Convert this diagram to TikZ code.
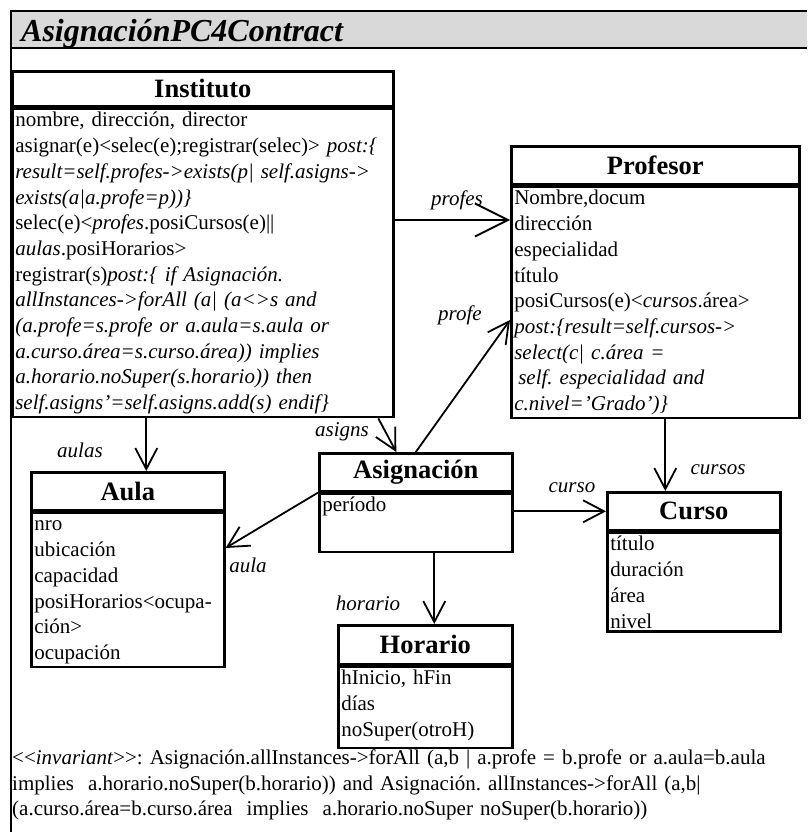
\documentclass[tikz,border=0pt]{standalone}
\usepackage{fontspec}
\setmainfont{Liberation Serif}
\usetikzlibrary{positioning,arrows.meta}
\definecolor{bandgray}{HTML}{D9D9D9}
\frenchspacing

\begin{document}
\begin{tikzpicture}[x=1pt, y=-1pt,
  frame/.style={line width=2.8pt},
  cls/.style={rectangle, draw, line width=2.6pt, inner sep=0pt, minimum height=38pt,
              anchor=north west, font=\fontsize{26.5}{30}\selectfont\bfseries},
  attrs/.style={rectangle, draw, line width=2.6pt, inner sep=3pt, align=left,
                font=\fontsize{21}{25.7}\selectfont,
                execute at begin node=\rule{0pt}{15pt}},
  role/.style={font=\fontsize{21}{24}\selectfont\itshape, inner sep=0pt},
  arr/.style={-{Straight Barb[length=21pt, width=22pt]}, line width=1.8pt},
  bigarr/.style={-{Straight Barb[length=33pt, width=33pt]}, line width=1.8pt}
]
\useasboundingbox (0,0) rectangle (807,832);

% frame and title band
\fill[bandgray] (11,11) rectangle (807,48);
\draw[frame] (11,832) -- (11,11) -- (807,11);
\draw[frame] (11,48) -- (807,48);
\node[anchor=base west, inner sep=0pt, font=\fontsize{32}{36}\selectfont\bfseries\itshape]
  (title) at (21,42) {AsignaciónPC4Contract};

% classes
\node[cls, minimum width=381pt, minimum height=35pt] (inst) at (11,70) {Instituto};
\node[attrs, text width=375pt, below=0pt of inst] (instb) {nombre, dirección, director\\
  asignar(e)<selec(e);registrar(selec)> \textit{post:\{}\\
  \textit{result=self.profes->exists(p| self.asigns->}\\
  \textit{exists(a|a.profe=p))\}}\\
  selec(e)<\textit{profes}.posiCursos(e)||\\
  \textit{aulas}.posiHorarios>\\
  registrar(s)\textit{post:\{ if Asignación.}\\
  \textit{allInstances->forAll (a| (a<>s and}\\
  \textit{(a.profe=s.profe or a.aula=s.aula or}\\
  \textit{a.curso.área=s.curso.área)) implies}\\
  \textit{a.horario.noSuper(s.horario)) then}\\
  \textit{self.asigns'=self.asigns.add(s) endif\}}};

\node[cls, minimum width=288pt] (prof) at (510,145) {Profesor};
\node[attrs, text width=282pt, below=0pt of prof] (profb) {Nombre,docum\\
  dirección\\
  especialidad\\
  título\\
  posiCursos(e)<\textit{cursos}.área>\\
  \textit{post:\{result=self.cursos->}\\
  \textit{select(c| c.área =}\\
  \hspace{4pt}\textit{self. especialidad and}\\
  \textit{c.nivel='Grado')\}}};

\node[cls, minimum width=193pt] (aula) at (30,471) {Aula};
\node[attrs, text width=187pt, below=0pt of aula] (aulab) {nro\\
  ubicación\\
  capacidad\\
  posiHorarios<ocupa-\\
  ción>\\
  ocupación};

\node[cls, minimum width=193pt] (asig) at (318,452) {Asignación};
\node[attrs, text width=187pt, text depth=37pt, below=0pt of asig] (asigb) {período};

\node[cls, minimum width=173pt] (curso) at (606,491) {Curso};
\node[attrs, text width=167pt, below=0pt of curso] (cursob) {título\\
  duración\\
  área\\
  nivel};

\node[cls, minimum width=174pt, minimum height=39pt] (hor) at (337,624) {Horario};
\node[attrs, text width=168pt, text depth=60pt, below=0pt of hor] (horb) {hInicio, hFin\\
  días\\
  noSuper(otroH)};

% associations
\coordinate (profesy) at (0,220);
\coordinate (profey) at (0,320);
\coordinate (aulay) at (0,548);
\draw[bigarr] (instb.east |- profesy) -- (profb.west |- profesy);
\draw[arr] (asig.north) -- (profb.west |- profey);
\draw[arr] ([xshift=175.5pt]instb.south) -- ([xshift=-19.5pt]asig.north);
\draw[arr] ([xshift=18.5pt]aula.north |- instb.south) -- ([xshift=18.5pt]aula.north);
\draw[arr] (asig.south west) -- (aulab.east |- aulay);
\draw[arr] (asigb.east |- curso.west) -- (curso.west);
\draw[arr] ([xshift=-28.5pt]curso.north |- profb.south) -- ([xshift=-28.5pt]curso.north);
\draw[arr] ([xshift=9pt]hor.north |- asigb.south) -- ([xshift=9pt]hor.north);

% role names
\node[role] (lprofes) at (457,200) {profes};
\node[role] (lprofe) at (460,315) {profe};
\node[role] (lasigns) at (342,432) {asigns};
\node[role] (laulas) at (80,450) {aulas};
\node[role] (laula) at (248,565) {aula};
\node[role] (lcurso) at (572,488) {curso};
\node[role] (lcursos) at (718,470) {cursos};
\node[role] (lhorario) at (368,603) {horario};

% invariant
\node[anchor=north west, inner sep=0pt, text width=790pt, align=left,
      font=\fontsize{21}{25.5}\selectfont] (inv) at (12,750)
  {<{}<\textit{invariant}>{}>: Asignación.allInstances->forAll (a,b | a.profe = b.profe or a.aula=b.aula\\
   implies~ a.horario.noSuper(b.horario)) and Asignación. allInstances->forAll (a,b|\\
   (a.curso.área=b.curso.área~ implies~ a.horario.noSuper noSuper(b.horario))};
\end{tikzpicture}
\end{document}
